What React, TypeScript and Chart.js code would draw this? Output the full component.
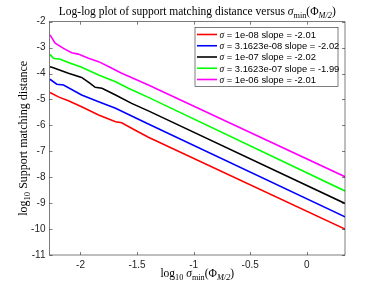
import React, { useEffect, useRef } from "react";
import { Chart, registerables } from "chart.js";

Chart.register(...registerables);

const xTicks = [-2, -1.5, -1, -0.5, 0];
const yTicks = [-11, -10, -9, -8, -7, -6, -5, -4, -3, -2];

const xRed = [-2.27, -2.195, -2.107, -1.99, -1.84, -1.69, -1.636, -1.52, -1.4, 0.338];
const yRed = [-4.73, -4.9, -5.05, -5.28, -5.6, -5.86, -5.9, -6.18, -6.46, -10.0];
const xBlue = [-2.27, -2.21, -2.15, -1.99, -1.84, -1.69, -1.548, -1.4, 0.338];
const yBlue = [-4.22, -4.41, -4.44, -4.83, -5.09, -5.34, -5.64, -5.95, -9.53];
const xBlack = [-2.27, -2.24, -2.107, -1.99, -1.915, -1.87, -1.81, -1.69, -1.548, -1.4, 0.338];
const yBlack = [-3.74, -3.78, -3.99, -4.15, -4.38, -4.53, -4.57, -4.83, -5.15, -5.44, -9.01];
const xGreen = [-2.27, -2.24, -2.18, -2.107, -1.99, -1.84, -1.69, -1.577, -1.4, 0.338];
const yGreen = [-3.26, -3.41, -3.45, -3.57, -3.76, -4.06, -4.32, -4.57, -4.92, -8.53];
const xMagenta = [-2.27, -2.224, -2.15, -2.078, -2.02, -1.93, -1.84, -1.74, -1.636, -1.52, -1.4, 0.338];
const yMagenta = [-2.51, -2.83, -3.03, -3.2, -3.25, -3.41, -3.54, -3.76, -3.99, -4.21, -4.44, -7.98];

const sigmaLabels = ["1e-08", "3.1623e-08", "1e-07", "3.1623e-07", "1e-06"];
const slopeLabels = ["-2.01", "-2.02", "-2.02", "-1.99", "-2.01"];
const seriesColors = ["#ff0000", "#0000ff", "#000000", "#00ff00", "#ff00ff"];

const X_MIN = -2.274;
const X_MAX = 0.338;

const SERIF = '"Liberation Serif", "DejaVu Serif", serif';
const SANS = '"Liberation Sans", Arial, sans-serif';

type Seg = { t: string; italic?: boolean; sub?: boolean; sans?: boolean };

function segFont(s: Seg, size: number) {
  const sz = s.sub ? size * 0.72 : size;
  return `${s.italic ? "italic " : ""}${sz}px ${s.sans ? SANS : SERIF}`;
}
function measureSegs(ctx: CanvasRenderingContext2D, segs: Seg[], size: number) {
  let w = 0;
  for (const s of segs) {
    ctx.font = segFont(s, size);
    w += ctx.measureText(s.t).width;
  }
  return w;
}
function drawSegs(ctx: CanvasRenderingContext2D, segs: Seg[], x: number, y: number, size: number) {
  let cx = x;
  ctx.textBaseline = "alphabetic";
  ctx.textAlign = "left";
  for (const s of segs) {
    ctx.font = segFont(s, size);
    ctx.fillText(s.t, cx, s.sub ? y + size * 0.25 : y);
    cx += ctx.measureText(s.t).width;
  }
}

const decor = {
  id: "decor",
  afterDraw(chart: any) {
    const ctx: CanvasRenderingContext2D = chart.ctx;
    const { left, right, top, bottom } = chart.chartArea;
    const xs = chart.scales.x;
    const ys = chart.scales.y;
    ctx.save();
    // box
    ctx.strokeStyle = "#262626";
    ctx.lineWidth = 0.6;
    ctx.strokeRect(left, top, right - left, bottom - top);
    // ticks
    ctx.beginPath();
    for (const v of xTicks) {
      const px = Math.round(xs.getPixelForValue(v)) + 0.5;
      ctx.moveTo(px, bottom);
      ctx.lineTo(px, bottom - 3);
      ctx.moveTo(px, top);
      ctx.lineTo(px, top + 3);
    }
    for (const v of yTicks) {
      const py = Math.round(ys.getPixelForValue(v)) + 0.5;
      ctx.moveTo(left, py);
      ctx.lineTo(left + 3, py);
      ctx.moveTo(right, py);
      ctx.lineTo(right - 3, py);
    }
    ctx.stroke();

    ctx.fillStyle = "#000";
    // title
    const title: Seg[] = [
      { t: "Log-log plot of support matching distance versus " },
      { t: "σ", italic: true },
      { t: "min", sub: true },
      { t: "(Φ" },
      { t: "M/2", sub: true, italic: true },
      { t: ")" },
    ];
    const tsize = 11.5;
    const tw = measureSegs(ctx, title, tsize);
    drawSegs(ctx, title, (left + right) / 2 - tw / 2, 15, tsize);

    // x label
    const xl: Seg[] = [
      { t: "log" },
      { t: "10", sub: true },
      { t: " " },
      { t: "σ", italic: true },
      { t: "min", sub: true },
      { t: "(Φ" },
      { t: "M/2", sub: true, italic: true },
      { t: ")" },
    ];
    const xw = measureSegs(ctx, xl, 11.5);
    drawSegs(ctx, xl, (left + right) / 2 - xw / 2, 277, 11.5);

    // y label
    const yl: Seg[] = [{ t: "log" }, { t: "10", sub: true }, { t: " Support matching distance" }];
    const yw = measureSegs(ctx, yl, 12);
    ctx.save();
    ctx.translate(26.5, (top + bottom) / 2);
    ctx.rotate(-Math.PI / 2);
    drawSegs(ctx, yl, -yw / 2, 0, 12);
    ctx.restore();

    // legend
    const lx0 = 195, ly0 = 27.5, lx1 = 338, ly1 = 86.5;
    ctx.fillStyle = "#fff";
    ctx.fillRect(lx0, ly0, lx1 - lx0, ly1 - ly0);
    ctx.strokeStyle = "#262626";
    ctx.lineWidth = 0.6;
    ctx.strokeRect(lx0, ly0, lx1 - lx0, ly1 - ly0);
    for (let i = 0; i < sigmaLabels.length; i++) {
      const cy = 34.5 + i * 11.25;
      ctx.strokeStyle = seriesColors[i];
      ctx.lineWidth = 1.6;
      ctx.beginPath();
      ctx.moveTo(197, cy);
      ctx.lineTo(217, cy);
      ctx.stroke();
      ctx.fillStyle = "#000";
      const segs: Seg[] = [
        { t: "σ", italic: true },
        { t: ` = ${sigmaLabels[i]} slope = ${slopeLabels[i]}`, sans: true },
      ];
      drawSegs(ctx, segs, 219.5, cy + 3.3, 9.4);
    }
    ctx.restore();
  },
};

function mk(xv: number[], yv: number[]) {
  return xv.map((x, i) => ({ x, y: yv[i] }));
}

export default function App() {
  const ref = useRef<HTMLCanvasElement | null>(null);
  useEffect(() => {
    if (!ref.current) return;
    const data = [
      mk(xRed, yRed),
      mk(xBlue, yBlue),
      mk(xBlack, yBlack),
      mk(xGreen, yGreen),
      mk(xMagenta, yMagenta),
    ];
    const chart = new Chart(ref.current, {
      type: "scatter",
      data: {
        datasets: data.map((d, i) => ({
          label: sigmaLabels[i],
          data: d,
          showLine: true,
          borderColor: seriesColors[i],
          backgroundColor: seriesColors[i],
          borderWidth: 1.6,
          pointRadius: 0,
          tension: 0,
        })),
      },
      options: {
        animation: false,
        responsive: false,
        maintainAspectRatio: false,
        layout: { padding: { top: 21.7, right: 37, left: 0, bottom: 0 } },
        plugins: { legend: { display: false }, tooltip: { enabled: false }, title: { display: false } },
        scales: {
          x: {
            type: "linear",
            min: X_MIN,
            max: X_MAX,
            grid: { display: false, drawTicks: false },
            border: { display: false },
            afterBuildTicks: (s: any) => {
              s.ticks = xTicks.map((v) => ({ value: v }));
            },
            afterFit: (s: any) => {
              s.height = 31;
            },
            ticks: {
              padding: 4,
              color: "#262626",
              font: { family: SANS, size: 10 },
              callback: (v: any) => String(v),
              maxRotation: 0,
            },
          },
          y: {
            type: "linear",
            min: -11,
            max: -2,
            grid: { display: false, drawTicks: false },
            border: { display: false },
            afterBuildTicks: (s: any) => {
              s.ticks = yTicks.map((v) => ({ value: v }));
            },
            afterFit: (s: any) => {
              s.width = 49.5;
            },
            ticks: {
              padding: 4,
              color: "#262626",
              font: { family: SANS, size: 10 },
              callback: (v: any) => String(v),
            },
          },
        },
      },
      plugins: [decor],
    });
    return () => chart.destroy();
  }, []);
  return (
    <canvas
      ref={ref}
      width={382}
      height={286}
      style={{ position: "fixed", left: 0, top: 0, width: 382, height: 286, background: "#fff" }}
    />
  );
}
